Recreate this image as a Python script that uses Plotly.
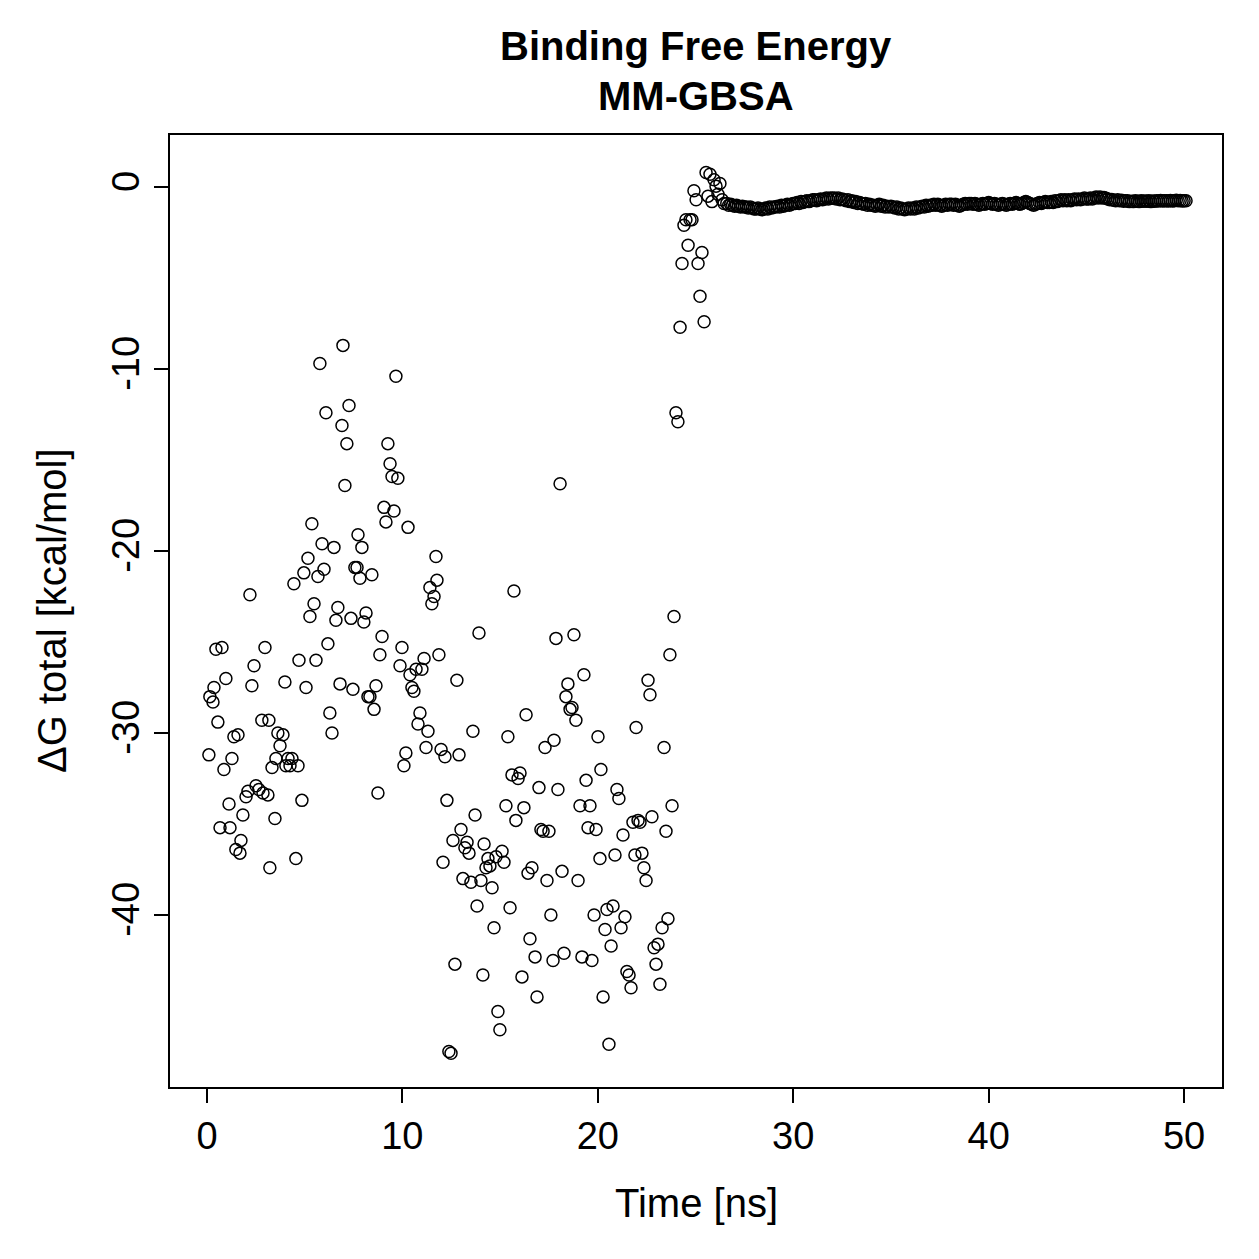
import numpy as np
import plotly.graph_objects as go

# ---- data ----
time_early = [
    0.10, 0.15, 0.31, 0.36, 0.46, 0.56, 0.67, 0.77, 0.87, 0.97,
    1.13, 1.18, 1.28, 1.38, 1.48, 1.59, 1.69, 1.74, 1.84, 2.00,
    2.10, 2.20, 2.30, 2.41, 2.51, 2.66, 2.81, 2.87, 2.97, 3.12,
    3.17, 3.22, 3.33, 3.48, 3.53, 3.63, 3.74, 3.89, 3.99, 4.04,
    4.15, 4.25, 4.35, 4.45, 4.55, 4.66, 4.71, 4.86, 4.96, 5.07,
    5.17, 5.27, 5.37, 5.48, 5.58, 5.68, 5.78, 5.89, 5.99, 6.09,
    6.19, 6.29, 6.40, 6.50, 6.60, 6.70, 6.81, 6.91, 6.96, 7.06,
    7.16, 7.27, 7.37, 7.47, 7.57, 7.68, 7.73, 7.83, 7.93, 8.03,
    8.14, 8.24, 8.34, 8.44, 8.55, 8.65, 8.75, 8.85, 8.96, 9.06,
    9.16, 9.26, 9.37, 9.47, 9.57, 9.67, 9.77, 9.88, 9.98, 10.08,
    10.18, 10.29, 10.39, 10.49, 10.59, 10.70, 10.80, 10.90, 11.00, 11.11,
    11.21, 11.31, 11.41, 11.51, 11.62, 11.72, 11.77, 11.87, 11.98, 12.08,
    12.18, 12.28, 12.38, 12.49, 12.59, 12.69, 12.79, 12.90, 13.00, 13.10,
    13.20, 13.31, 13.41, 13.51, 13.61, 13.72, 13.82, 13.92, 14.02, 14.12,
    14.18, 14.28, 14.38, 14.48, 14.59, 14.69, 14.79, 14.89, 14.99, 15.10,
    15.20, 15.30, 15.40, 15.51, 15.61, 15.71, 15.81, 15.92, 16.02, 16.12,
    16.22, 16.33, 16.43, 16.53, 16.63, 16.79, 16.89, 16.99, 17.09, 17.20,
    17.30, 17.40, 17.50, 17.60, 17.71, 17.76, 17.86, 17.96, 18.07, 18.17,
    18.27, 18.37, 18.47, 18.58, 18.68, 18.78, 18.88, 18.99, 19.09, 19.19,
    19.29, 19.40, 19.50, 19.60, 19.70, 19.81, 19.91, 20.01, 20.11, 20.16,
    20.27, 20.37, 20.47, 20.57, 20.68, 20.78, 20.88, 20.98, 21.08, 21.19,
    21.29, 21.39, 21.49, 21.60, 21.70, 21.80, 21.90, 21.96, 22.06, 22.16,
    22.26, 22.36, 22.47, 22.57, 22.67, 22.77, 22.88, 22.98, 23.08, 23.18,
    23.29, 23.39, 23.49, 23.59, 23.69, 23.80, 23.90, 24.00, 24.10, 24.21,
    24.31, 24.41, 24.51, 24.62, 24.72, 24.82, 24.92, 25.03, 25.13, 25.23,
    25.33, 25.44, 25.54, 25.64, 25.74, 25.84, 25.95, 26.05, 26.15, 26.25,
    26.36, 26.46,
]
dg_early = [
    -31.2, -28.0, -28.3, -27.5, -25.4, -29.4, -35.2, -25.3, -32.0, -27.0,
    -33.9, -35.2, -31.4, -30.2, -36.4, -30.1, -36.6, -35.9, -34.5, -33.5,
    -33.2, -22.4, -27.4, -26.3, -32.9, -33.1, -29.3, -33.3, -25.3, -33.4,
    -29.3, -37.4, -31.9, -34.7, -31.4, -30.0, -30.7, -30.1, -27.2, -31.8,
    -31.4, -31.8, -31.4, -21.8, -36.9, -31.8, -26.0, -33.7, -21.2, -27.5,
    -20.4, -23.6, -18.5, -22.9, -26.0, -21.4, -9.7, -19.6, -21.0, -12.4,
    -25.1, -28.9, -30.0, -19.8, -23.8, -23.1, -27.3, -13.1, -8.7, -16.4,
    -14.1, -12.0, -23.7, -27.6, -20.9, -20.9, -19.1, -21.5, -19.8, -23.9,
    -23.4, -28.0, -28.0, -21.3, -28.7, -27.4, -33.3, -25.7, -24.7, -17.6,
    -18.4, -14.1, -15.2, -15.9, -17.8, -10.4, -16.0, -26.3, -25.3, -31.8,
    -31.1, -18.7, -26.8, -27.5, -27.7, -26.5, -29.5, -28.9, -26.5, -25.9,
    -30.8, -29.9, -22.0, -22.9, -22.5, -20.3, -21.6, -25.7, -30.9, -37.1,
    -31.3, -33.7, -47.5, -47.6, -35.9, -42.7, -27.1, -31.2, -35.3, -38.0,
    -36.3, -36.0, -36.6, -38.2, -29.9, -34.5, -39.5, -24.5, -38.1, -43.3,
    -36.1, -37.4, -36.9, -37.3, -38.5, -40.7, -36.8, -45.3, -46.3, -36.5,
    -37.1, -34.0, -30.2, -39.6, -32.3, -22.2, -34.8, -32.5, -32.2, -43.4,
    -34.1, -29.0, -37.7, -41.3, -37.4, -42.3, -44.5, -33.0, -35.3, -35.4,
    -30.8, -38.1, -35.4, -40.0, -42.5, -30.4, -24.8, -33.1, -16.3, -37.6,
    -42.1, -28.0, -27.3, -28.7, -28.6, -24.6, -29.3, -38.1, -34.0, -42.3,
    -26.8, -32.6, -35.2, -34.0, -42.5, -40.0, -35.3, -30.2, -36.9, -32.0,
    -44.5, -40.8, -39.7, -47.1, -41.7, -39.5, -36.7, -33.1, -33.6, -40.7,
    -35.6, -40.1, -43.1, -43.3, -44.0, -34.9, -36.7, -29.7, -34.8, -34.9,
    -36.6, -37.4, -38.1, -27.1, -27.9, -34.6, -41.8, -42.7, -41.6, -43.8,
    -40.7, -30.8, -35.4, -40.2, -25.7, -34.0, -23.6, -12.4, -12.9, -7.7,
    -4.2, -2.1, -1.8, -3.2, -1.8, -1.8, -0.2, -0.7, -4.2, -6.0,
    -3.6, -7.4, 0.8, -0.5, 0.7, -0.8, 0.4, 0.05, -0.4, 0.2,
    -0.7, -0.9,
]
dg_late = [
    -0.90, -1.00, -0.95, -1.00, -1.05,
    -1.00, -1.05, -1.10, -1.05, -1.10, -1.10, -1.15, -1.10, -1.15, -1.20,
    -1.20, -1.15, -1.20, -1.25, -1.20, -1.15, -1.20, -1.10, -1.15, -1.10,
    -1.10, -1.05, -1.10, -1.00, -1.05, -1.00, -0.95, -1.00, -0.95, -0.90,
    -0.90, -0.85, -0.90, -0.80, -0.85, -0.80, -0.75, -0.80, -0.75, -0.70,
    -0.70, -0.75, -0.70, -0.65, -0.70, -0.65, -0.60, -0.65, -0.60, -0.62,
    -0.60, -0.65, -0.60, -0.70, -0.65, -0.70, -0.75, -0.70, -0.80, -0.75,
    -0.85, -0.80, -0.90, -0.85, -0.90, -0.95, -0.90, -1.00, -0.95, -1.00,
    -1.00, -1.05, -1.00, -0.95, -1.05, -1.00, -1.10, -1.05, -1.10, -1.05,
    -1.10, -1.15, -1.10, -1.20, -1.15, -1.20, -1.25, -1.20, -1.15, -1.20,
    -1.15, -1.20, -1.10, -1.15, -1.10, -1.05, -1.10, -1.00, -1.05, -1.00,
    -1.00, -0.95, -1.00, -0.95, -1.00, -1.05, -1.00, -0.95, -1.00, -0.95,
    -0.95, -1.00, -0.95, -1.00, -1.05, -1.00, -0.95, -0.90, -0.95, -0.90,
    -0.90, -0.95, -0.90, -0.95, -1.00, -0.95, -0.90, -0.95, -0.90, -0.85,
    -0.90, -0.95, -0.90, -0.95, -1.00, -0.95, -0.90, -0.95, -1.00, -0.95,
    -0.90, -0.95, -0.90, -0.85, -0.90, -0.95, -0.90, -0.85, -0.80, -0.85,
    -0.90, -0.95, -1.00, -0.95, -0.90, -0.85, -0.90, -0.85, -0.80, -0.85,
    -0.85, -0.80, -0.85, -0.75, -0.80, -0.75, -0.70, -0.75, -0.70, -0.75,
    -0.70, -0.75, -0.70, -0.65, -0.70, -0.65, -0.70, -0.65, -0.60, -0.65,
    -0.65, -0.60, -0.65, -0.60, -0.55, -0.60, -0.55, -0.60, -0.58, -0.62,
    -0.65, -0.70, -0.68, -0.72, -0.75, -0.70, -0.75, -0.72, -0.78, -0.75,
    -0.75, -0.80, -0.78, -0.80, -0.75, -0.78, -0.80, -0.75, -0.78, -0.76,
    -0.78, -0.75, -0.80, -0.76, -0.78, -0.75, -0.77, -0.74, -0.76, -0.75,
    -0.75, -0.77, -0.74, -0.76, -0.75, -0.73, -0.75, -0.74, -0.76, -0.75,
    -0.75,
]
# late part sampled every 0.1 ns from 26.6 ns to 50.0 ns
time_late = list(np.round(26.6 + 0.1 * np.arange(len(dg_late)), 2))

x_ticks = [0, 10, 20, 30, 40, 50]
x_ticklabels = ["0", "10", "20", "30", "40", "50"]
y_ticks = [0, -10, -20, -30, -40]
y_ticklabels = ["0", "-10", "-20", "-30", "-40"]

title_line1 = "Binding Free Energy"
title_line2 = "MM-GBSA"
x_label = "Time [ns]"
y_label = "ΔG total [kcal/mol]"

time_all = time_early + time_late
dg_all = dg_early + dg_late

FONT = "Liberation Sans, Arial, Helvetica, sans-serif"
TICK_SIZE = 38
LABEL_SIZE = 40
TITLE_SIZE = 40

fig = go.Figure()
fig.add_trace(go.Scatter(
    x=time_all, y=dg_all, mode="markers",
    marker=dict(symbol="circle-open", size=12, color="black",
                line=dict(color="black", width=1.5)),
    showlegend=False,
))

fig.update_layout(
    width=1259, height=1259,
    margin=dict(l=170, r=37, t=135, b=172),
    plot_bgcolor="white", paper_bgcolor="white",
    font=dict(family=FONT, color="black", size=TICK_SIZE),
)
fig.update_xaxes(
    range=[-1.89, 51.94], showgrid=False, zeroline=False,
    showline=True, linecolor="black", linewidth=2, mirror=True,
    ticks="outside", ticklen=14, tickwidth=2, tickcolor="black",
    tickvals=x_ticks, ticktext=x_ticklabels,
    tickfont=dict(family=FONT, size=TICK_SIZE, color="black"),
)
fig.update_yaxes(
    range=[-49.45, 2.86], showgrid=False, zeroline=False,
    showline=True, linecolor="black", linewidth=2, mirror=True,
    ticks="outside", ticklen=14, tickwidth=2, tickcolor="black",
    tickvals=y_ticks, ticktext=y_ticklabels, tickangle=-90,
    tickfont=dict(family=FONT, size=TICK_SIZE, color="black"),
)

fig.add_annotation(text="<b>" + title_line1 + "</b>", xref="paper", yref="paper",
                   x=0.5, y=1 + (135 - 46) / 952, showarrow=False,
                   font=dict(family=FONT, size=TITLE_SIZE, color="black"),
                   xanchor="center", yanchor="middle")
fig.add_annotation(text="<b>" + title_line2 + "</b>", xref="paper", yref="paper",
                   x=0.5, y=1 + (135 - 96) / 952, showarrow=False,
                   font=dict(family=FONT, size=TITLE_SIZE, color="black"),
                   xanchor="center", yanchor="middle")
fig.add_annotation(text=x_label, xref="paper", yref="paper",
                   x=0.5, y=-(1203 - 1087) / 952, showarrow=False,
                   font=dict(family=FONT, size=LABEL_SIZE, color="black"),
                   xanchor="center", yanchor="middle")
fig.add_annotation(text=y_label, xref="paper", yref="paper",
                   x=-(170 - 52) / 1052, y=(1087 - 611) / 952, showarrow=False,
                   textangle=-90,
                   font=dict(family=FONT, size=LABEL_SIZE, color="black"),
                   xanchor="center", yanchor="middle")

fig.write_html("out.html")
